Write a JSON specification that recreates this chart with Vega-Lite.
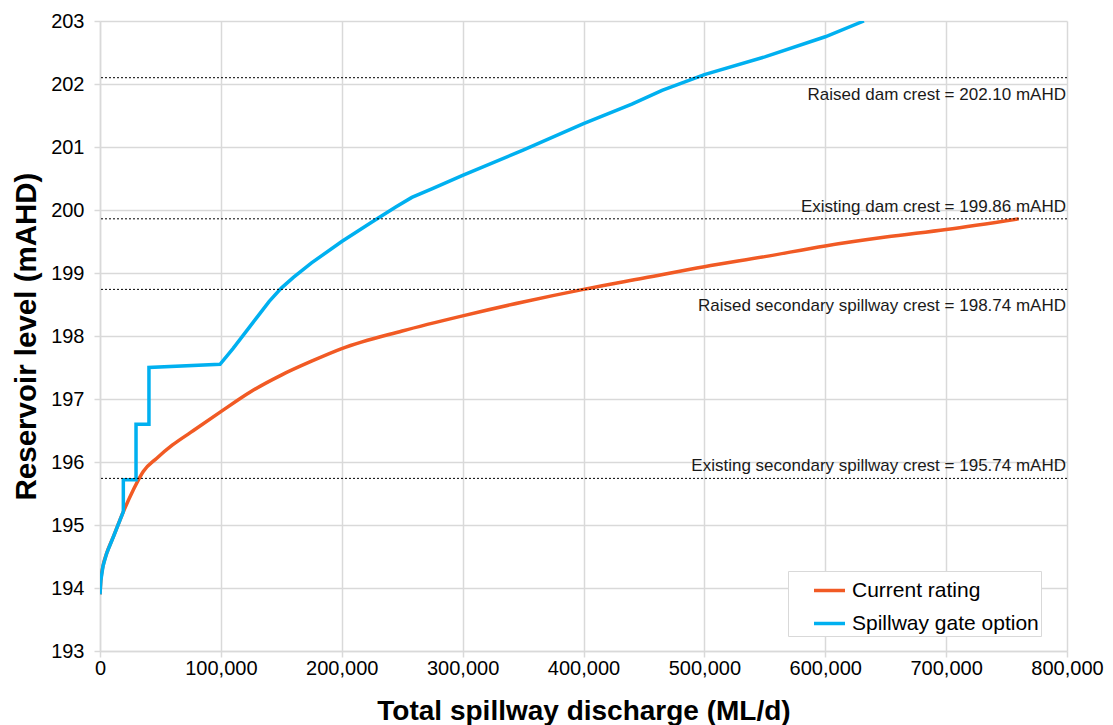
{
  "$schema": "https://vega.github.io/schema/vega-lite/v6.json",
  "width": 967,
  "height": 630,
  "autosize": "none",
  "padding": {"left": 100, "top": 21, "right": 46, "bottom": 74},
  "background": "white",
  "config": {
    "view": {"stroke": null},
    "font": "Liberation Sans",
    "axis": {
      "labelFont": "Liberation Sans",
      "labelFontSize": 20,
      "labelColor": "#000000",
      "labelFlush": false,
      "labelOverlap": false,
      "titleFont": "Liberation Sans",
      "titleFontWeight": "bold",
      "titleColor": "#000000",
      "gridColor": "#D9D9D9",
      "gridWidth": 1.5,
      "domainColor": "#D9D9D9",
      "domainWidth": 1.5,
      "tickColor": "#D9D9D9",
      "tickWidth": 1.5,
      "tickSize": 6
    },
    "legend": {
      "labelFont": "Liberation Sans",
      "labelFontSize": 21,
      "labelColor": "#000000",
      "labelLimit": 400
    }
  },
  "datasets": {
    "curves": [
      {"series": "Current rating", "i": 1, "q": 0, "level": 193.9},
      {"series": "Current rating", "i": 2, "q": 700, "level": 194.12},
      {"series": "Current rating", "i": 3, "q": 2500, "level": 194.35},
      {"series": "Current rating", "i": 4, "q": 5500, "level": 194.55},
      {"series": "Current rating", "i": 5, "q": 11000, "level": 194.81},
      {"series": "Current rating", "i": 6, "q": 19300, "level": 195.21},
      {"series": "Current rating", "i": 7, "q": 27600, "level": 195.56},
      {"series": "Current rating", "i": 8, "q": 35800, "level": 195.85},
      {"series": "Current rating", "i": 9, "q": 47000, "level": 196.06},
      {"series": "Current rating", "i": 10, "q": 60000, "level": 196.27},
      {"series": "Current rating", "i": 11, "q": 75000, "level": 196.47},
      {"series": "Current rating", "i": 12, "q": 100000, "level": 196.8},
      {"series": "Current rating", "i": 13, "q": 125000, "level": 197.12},
      {"series": "Current rating", "i": 14, "q": 150000, "level": 197.38},
      {"series": "Current rating", "i": 15, "q": 175000, "level": 197.6},
      {"series": "Current rating", "i": 16, "q": 200000, "level": 197.8},
      {"series": "Current rating", "i": 17, "q": 250000, "level": 198.08},
      {"series": "Current rating", "i": 18, "q": 300000, "level": 198.32},
      {"series": "Current rating", "i": 19, "q": 350000, "level": 198.54},
      {"series": "Current rating", "i": 20, "q": 400000, "level": 198.74},
      {"series": "Current rating", "i": 21, "q": 450000, "level": 198.92},
      {"series": "Current rating", "i": 22, "q": 500000, "level": 199.1},
      {"series": "Current rating", "i": 23, "q": 550000, "level": 199.26},
      {"series": "Current rating", "i": 24, "q": 600000, "level": 199.43},
      {"series": "Current rating", "i": 25, "q": 650000, "level": 199.57},
      {"series": "Current rating", "i": 26, "q": 700000, "level": 199.69},
      {"series": "Current rating", "i": 27, "q": 760000, "level": 199.86},
      {"series": "Spillway gate option", "i": 1, "q": 0, "level": 193.9},
      {"series": "Spillway gate option", "i": 2, "q": 700, "level": 194.12},
      {"series": "Spillway gate option", "i": 3, "q": 2500, "level": 194.35},
      {"series": "Spillway gate option", "i": 4, "q": 5500, "level": 194.55},
      {"series": "Spillway gate option", "i": 5, "q": 11000, "level": 194.81},
      {"series": "Spillway gate option", "i": 6, "q": 19300, "level": 195.21},
      {"series": "Spillway gate option", "i": 7, "q": 19300, "level": 195.72},
      {"series": "Spillway gate option", "i": 8, "q": 29800, "level": 195.72},
      {"series": "Spillway gate option", "i": 9, "q": 29800, "level": 196.6},
      {"series": "Spillway gate option", "i": 10, "q": 40500, "level": 196.6},
      {"series": "Spillway gate option", "i": 11, "q": 40500, "level": 197.5},
      {"series": "Spillway gate option", "i": 12, "q": 99300, "level": 197.55},
      {"series": "Spillway gate option", "i": 13, "q": 110000, "level": 197.8},
      {"series": "Spillway gate option", "i": 14, "q": 120000, "level": 198.05},
      {"series": "Spillway gate option", "i": 15, "q": 130000, "level": 198.3},
      {"series": "Spillway gate option", "i": 16, "q": 140000, "level": 198.55},
      {"series": "Spillway gate option", "i": 17, "q": 150000, "level": 198.76},
      {"series": "Spillway gate option", "i": 18, "q": 160000, "level": 198.93},
      {"series": "Spillway gate option", "i": 19, "q": 175000, "level": 199.16},
      {"series": "Spillway gate option", "i": 20, "q": 200000, "level": 199.5},
      {"series": "Spillway gate option", "i": 21, "q": 225000, "level": 199.81},
      {"series": "Spillway gate option", "i": 22, "q": 245000, "level": 200.05},
      {"series": "Spillway gate option", "i": 23, "q": 258000, "level": 200.2},
      {"series": "Spillway gate option", "i": 24, "q": 275000, "level": 200.34},
      {"series": "Spillway gate option", "i": 25, "q": 300000, "level": 200.55},
      {"series": "Spillway gate option", "i": 26, "q": 350000, "level": 200.95},
      {"series": "Spillway gate option", "i": 27, "q": 400000, "level": 201.37},
      {"series": "Spillway gate option", "i": 28, "q": 440000, "level": 201.68},
      {"series": "Spillway gate option", "i": 29, "q": 465000, "level": 201.9},
      {"series": "Spillway gate option", "i": 30, "q": 500000, "level": 202.15},
      {"series": "Spillway gate option", "i": 31, "q": 550000, "level": 202.43},
      {"series": "Spillway gate option", "i": 32, "q": 600000, "level": 202.75},
      {"series": "Spillway gate option", "i": 33, "q": 632000, "level": 203.0}
    ],
    "crests": [
      {"level": 202.1, "label": "Raised dam crest = 202.10 mAHD", "side": "below"},
      {"level": 199.86, "label": "Existing dam crest = 199.86 mAHD", "side": "above"},
      {"level": 198.74, "label": "Raised secondary spillway crest = 198.74 mAHD", "side": "below"},
      {"level": 195.74, "label": "Existing secondary spillway crest = 195.74 mAHD", "side": "above"}
    ]
  },
  "layer": [
    {
      "data": {"name": "curves"},
      "transform": [{"filter": "datum.series == 'Current rating'"}],
      "mark": {"type": "line", "strokeWidth": 3.5, "clip": true, "interpolate": "monotone"},
      "encoding": {
        "x": {
          "field": "q", "type": "quantitative",
          "scale": {"domain": [0, 800000], "nice": false},
          "axis": {"title": "Total spillway discharge (ML/d)", "titleFontSize": 28, "values": [0, 100000, 200000, 300000, 400000, 500000, 600000, 700000, 800000], "format": ",", "labelExpr": "format(datum.value, ',')", "labelPadding": 1, "titlePadding": 19}
        },
        "y": {
          "field": "level", "type": "quantitative",
          "scale": {"domain": [193, 203], "nice": false, "zero": false},
          "axis": {"title": "Reservoir level (mAHD)", "titleFontSize": 29.5, "values": [193, 194, 195, 196, 197, 198, 199, 200, 201, 202, 203], "format": "d", "labelPadding": 10, "titlePadding": 9}
        },
        "color": {
          "field": "series", "type": "nominal",
          "scale": {"domain": ["Current rating", "Spillway gate option"], "range": ["#F15A24", "#00B0F0"]},
          "legend": {
            "title": null, "orient": "none", "legendX": 688, "legendY": 550,
            "symbolType": "stroke", "symbolSize": 961, "symbolStrokeWidth": 3.5,
            "symbolOffset": 22, "labelOffset": 5, "padding": 2, "rowPadding": 5,
            "strokeColor": "#D9D9D9", "fillColor": "#FFFFFF"
          }
        },
        "order": {"field": "i", "type": "quantitative"}
      }
    },
    {
      "data": {"name": "curves"},
      "transform": [{"filter": "datum.series == 'Spillway gate option'"}],
      "mark": {"type": "line", "strokeWidth": 3.5, "clip": true},
      "encoding": {
        "x": {"field": "q", "type": "quantitative"},
        "y": {"field": "level", "type": "quantitative"},
        "color": {"field": "series", "type": "nominal"},
        "order": {"field": "i", "type": "quantitative"}
      }
    },
    {
      "data": {"name": "crests"},
      "mark": {"type": "rule", "color": "#000000", "strokeWidth": 1, "strokeDash": [2, 2]},
      "encoding": {
        "y": {"field": "level", "type": "quantitative"}
      }
    },
    {
      "data": {"name": "crests"},
      "transform": [{"filter": "datum.side == 'below'"}],
      "mark": {"type": "text", "align": "right", "baseline": "top", "dy": 9, "dx": -1, "fontSize": 17, "color": "#1a1a1a", "font": "Liberation Sans"},
      "encoding": {
        "x": {"datum": 800000, "type": "quantitative"},
        "y": {"field": "level", "type": "quantitative"},
        "text": {"field": "label"}
      }
    },
    {
      "data": {"name": "crests"},
      "transform": [{"filter": "datum.side == 'above'"}],
      "mark": {"type": "text", "align": "right", "baseline": "bottom", "dy": -3, "dx": -1, "fontSize": 17, "color": "#1a1a1a", "font": "Liberation Sans"},
      "encoding": {
        "x": {"datum": 800000, "type": "quantitative"},
        "y": {"field": "level", "type": "quantitative"},
        "text": {"field": "label"}
      }
    }
  ]
}
